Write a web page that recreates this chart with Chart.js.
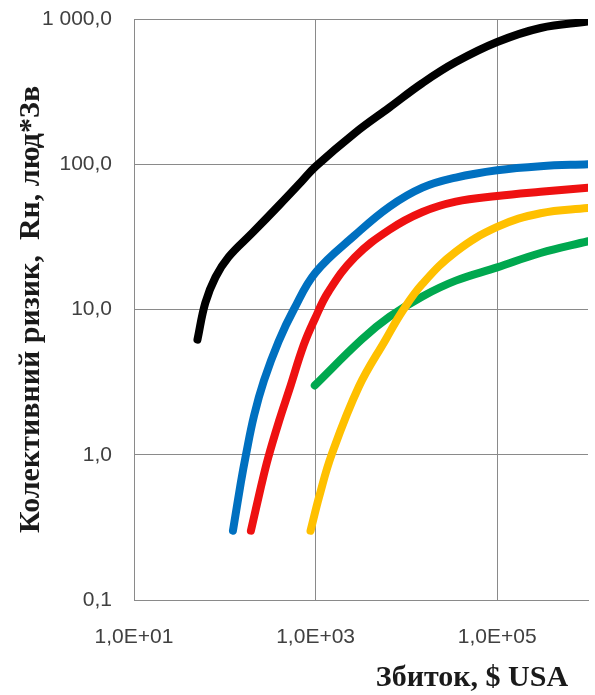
<!DOCTYPE html>
<html>
<head>
<meta charset="utf-8">
<script src="https://cdn.jsdelivr.net/npm/chart.js@4"></script>
<style>
  html, body { margin: 0; padding: 0; background: #fff; }
  #wrap { width: 595px; height: 695px; }
</style>
</head>
<body>
<div id="wrap"><canvas id="risk-graph" width="595" height="695"></canvas></div>
<script>
// Tick values (log axes)
var xTicks = [1e1, 1e3, 1e5];
var yTicks = [0.1, 1, 10, 100, 1000];

// Series: damage ($) -> collective risk
var blackX = [50, 61, 79, 110, 204, 400, 700, 1000, 2700, 6500, 15000, 35000, 1e5, 3e5, 1e6];
var blackY = [6.2, 11.1, 16.7, 23, 34, 52.5, 76, 96.5, 164, 246, 362, 505, 694, 867, 960];

var blueX = [123, 150, 171, 210, 270, 390, 575, 1000, 2700, 6500, 15000, 35000, 1e5, 3e5, 1e6];
var blueY = [0.3, 0.64, 1.0, 1.86, 3.24, 6.0, 10, 18, 32.4, 51, 69, 81, 91, 97, 100];

var redX = [194, 250, 300, 400, 515, 740, 980, 1380, 2700, 6500, 15000, 35000, 1e5, 3e5, 1e6];
var redY = [0.3, 0.6, 0.95, 1.74, 2.82, 5.7, 8.6, 13.2, 22.9, 35.4, 46.9, 55.3, 60.5, 64.7, 69];

var yellowX = [880, 1100, 1500, 3000, 5900, 9100, 15000, 35000, 1e5, 3e5, 1e6];
var yellowY = [0.3, 0.52, 1.0, 2.95, 6.2, 9.8, 15, 25, 37, 46, 50];

var greenX = [980, 3200, 6500, 15000, 35000, 1e5, 3e5, 1e6];
var greenY = [3.0, 6.2, 8.9, 12.3, 15.8, 19.5, 24.5, 29.5];

function pts(xs, ys) {
  return xs.map(function (x, i) { return { x: x, y: ys[i] }; });
}

function line(label, xs, ys, color) {
  return {
    label: label,
    data: pts(xs, ys),
    borderColor: color,
    backgroundColor: color,
    borderWidth: 8,
    borderCapStyle: 'round',
    borderJoinStyle: 'round',
    pointRadius: 0,
    fill: false,
    tension: 0.4
  };
}

function fmtY(v) {
  if (v >= 1000) return '1 000,0';
  return v.toFixed(1).replace('.', ',');
}

var gridColor = '#8a8a8a';

// bottom axis title, placed right of centre like the original
var xTitlePlugin = {
  id: 'xTitle',
  afterDraw: function (chart) {
    var c = chart.ctx;
    c.save();
    c.font = 'bold 30px "Liberation Serif"';
    c.fillStyle = '#1a1a1a';
    c.textAlign = 'center';
    c.textBaseline = 'middle';
    c.fillText('Збиток, $ USA', 472, 678);
    c.restore();
  }
};

var ctx = document.getElementById('risk-graph').getContext('2d');
var RiskChart = new Chart(ctx, {
  type: 'line',
  data: {
    datasets: [
      line('black', blackX, blackY, '#000000'),
      line('blue', blueX, blueY, '#0070c0'),
      line('red', redX, redY, '#ee1111'),
      line('yellow', yellowX, yellowY, '#ffc000'),
      line('green', greenX, greenY, '#00a84f')
    ]
  },
  options: {
    responsive: false,
    animation: false,
    layout: { padding: { top: 19, right: 7, left: 0, bottom: 0 } },
    plugins: {
      legend: { display: false },
      tooltip: { enabled: false }
    },
    scales: {
      x: {
        type: 'logarithmic',
        min: 10,
        max: 1e6,
        afterBuildTicks: function (scale) {
          scale.ticks = xTicks.map(function (v) { return { value: v }; });
        },
        afterFit: function (scale) { scale.height = 95; },
        grid: { color: gridColor, lineWidth: 1, drawTicks: false },
        border: { color: gridColor, width: 1 },
        ticks: {
          autoSkip: false,
          maxRotation: 0,
          padding: 25,
          color: '#404040',
          font: { family: '"Liberation Sans"', size: 21 },
          callback: function (v) {
            var e = Math.round(Math.log10(v));
            return '1,0E+' + (e < 10 ? '0' : '') + e;
          }
        }
      },
      y: {
        type: 'logarithmic',
        min: 0.1,
        max: 1000,
        afterBuildTicks: function (scale) {
          scale.ticks = yTicks.map(function (v) { return { value: v }; });
        },
        afterFit: function (scale) { scale.width = 134; },
        grid: {
          color: gridColor,
          lineWidth: 1,
          drawTicks: true,
          tickLength: 22,
          tickColor: 'rgba(0,0,0,0)'
        },
        border: { color: gridColor, width: 1 },
        title: {
          display: true,
          text: 'Колективний ризик,  Rн, люд*Зв',
          color: '#1a1a1a',
          padding: { top: 13, bottom: 0 },
          font: { family: '"Liberation Serif"', size: 30, weight: 'bold' }
        },
        ticks: {
          autoSkip: false,
          padding: 0,
          color: '#404040',
          font: { family: '"Liberation Sans"', size: 21 },
          callback: function (v) { return fmtY(v); }
        }
      }
    }
  },
  plugins: [xTitlePlugin]
});
</script>
</body>
</html>
